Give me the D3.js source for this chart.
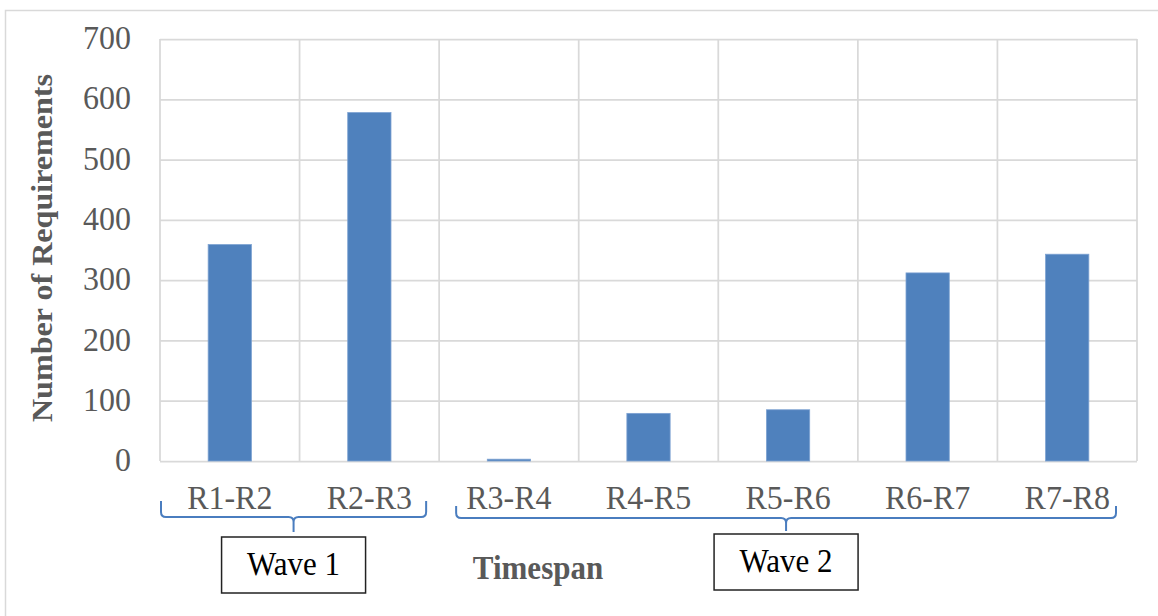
<!DOCTYPE html>
<html>
<head>
<meta charset="utf-8">
<script src="https://cdn.jsdelivr.net/npm/d3@7"></script>
<style>
  body { margin: 0; background: #fff; }
  svg { display: block; }
</style>
</head>
<body>
<svg id="chart" width="1158" height="616"></svg>
<script>
// chart data
const categories = ['R1-R2', 'R2-R3', 'R3-R4', 'R4-R5', 'R5-R6', 'R6-R7', 'R7-R8'];
const values = [359, 578, 3, 79, 85, 312, 343];
const yTicks = [0, 100, 200, 300, 400, 500, 600, 700];
const waveLabels = ['Wave 1', 'Wave 2'];
const waveFrom = ['R1-R2', 'R3-R4'];
const waveTo = ['R2-R3', 'R7-R8'];

const W = 1158, H = 616;
const plot = { left: 160, right: 1137, top: 39, bottom: 461 };
const GRID = '#d9d9d9';
const TXT = '#595959';
const FONT = '"Liberation Serif", "Times New Roman", serif';
const STRETCH = 'scale(1,1.07)'; // source text is a bit taller than wide

const svg = d3.select('#chart');

// outer chart frame (runs off the right and bottom edges)
svg.append('rect')
    .attr('x', 5.5).attr('y', 10.5)
    .attr('width', W + 20).attr('height', H + 20)
    .attr('fill', '#fff')
    .attr('stroke', GRID)
    .attr('stroke-width', 1.5);

const x = d3.scaleBand().domain(categories).range([plot.left, plot.right]).padding(0);
const y = d3.scaleLinear().domain([0, 700]).range([plot.bottom, plot.top]);

// horizontal grid
svg.append('g')
    .attr('transform', `translate(${plot.left},0)`)
    .call(d3.axisLeft(y).tickValues(yTicks).tickSize(-(plot.right - plot.left)).tickFormat(''))
    .call(g => g.select('.domain').remove())
    .call(g => g.selectAll('line').attr('stroke', GRID).attr('stroke-width', 1.75));

// vertical grid at category boundaries
const edges = categories.map(c => x(c)).concat([plot.right]);
svg.append('g').selectAll('line')
    .data(edges)
    .join('line')
    .attr('x1', d => d).attr('x2', d => d)
    .attr('y1', plot.top).attr('y2', plot.bottom)
    .attr('stroke', GRID)
    .attr('stroke-width', 1.75);

// bars
const barW = x.bandwidth() * 0.31;
svg.append('g').selectAll('rect')
    .data(values)
    .join('rect')
    .attr('x', (d, i) => x(categories[i]) + (x.bandwidth() - barW) / 2)
    .attr('y', d => y(d))
    .attr('width', barW)
    .attr('height', d => y(0) - y(d))
    .attr('fill', '#4f81bd')
    .attr('stroke', '#7da2d2')
    .attr('stroke-width', 0.8);

// y tick labels
svg.append('g')
    .attr('transform', `translate(${plot.left},0)`)
    .call(d3.axisLeft(y).tickValues(yTicks).tickSize(0).tickPadding(29))
    .call(g => g.select('.domain').remove())
    .call(g => g.selectAll('text')
        .attr('dy', '0.28em')
        .attr('transform', STRETCH)
        .attr('fill', TXT)
        .style('font-family', FONT)
        .style('font-size', '32px'));

// x category labels
svg.append('g')
    .attr('transform', `translate(0,${plot.bottom})`)
    .call(d3.axisBottom(x).tickSize(0))
    .call(g => g.select('.domain').remove())
    .call(g => g.selectAll('text')
        .attr('y', 45)
        .attr('dy', 0)
        .attr('transform', STRETCH)
        .attr('fill', TXT)
        .style('font-family', FONT)
        .style('font-size', '32px'));

// y axis title
svg.append('text')
    .attr('transform', `translate(52,248) ${STRETCH} rotate(-90)`)
    .attr('text-anchor', 'middle')
    .attr('fill', TXT)
    .style('font-family', FONT)
    .style('font-size', '30px')
    .style('font-weight', 'bold')
    .text('Number of Requirements');

// x axis title
svg.append('text')
    .attr('transform', `translate(538,579) ${STRETCH}`)
    .attr('text-anchor', 'middle')
    .attr('fill', TXT)
    .style('font-family', FONT)
    .style('font-size', '31px')
    .style('font-weight', 'bold')
    .text('Timespan');

// wave braces and boxes
const braces = [
    { x0: x(waveFrom[0]) + 1, x1: x(waveTo[0]) + x.bandwidth() - 13, top: 501, line: 517, tip: 532, label: waveLabels[0], boxTop: 537 },
    { x0: x(waveFrom[1]) + 17, x1: x(waveTo[1]) + x.bandwidth() - 21, top: 506, line: 518, tip: 531, label: waveLabels[1], boxTop: 534 }
];

function bracePath(b) {
    const r = 5;
    const xm = (b.x0 + b.x1) / 2;
    const p = d3.path();
    p.moveTo(b.x0, b.top);
    p.lineTo(b.x0, b.line - r);
    p.quadraticCurveTo(b.x0, b.line, b.x0 + r, b.line);
    p.lineTo(xm - r, b.line);
    p.quadraticCurveTo(xm, b.line, xm, b.line + r);
    p.lineTo(xm, b.tip);
    p.moveTo(xm, b.line + r);
    p.quadraticCurveTo(xm, b.line, xm + r, b.line);
    p.lineTo(b.x1 - r, b.line);
    p.quadraticCurveTo(b.x1, b.line, b.x1, b.line - r);
    p.lineTo(b.x1, b.top);
    return p.toString();
}

const waves = svg.append('g').selectAll('g')
    .data(braces)
    .join('g');

waves.append('path')
    .attr('d', bracePath)
    .attr('fill', 'none')
    .attr('stroke', '#4a7dbf')
    .attr('stroke-width', 2);

const boxW = 144, boxH = 56;
waves.append('rect')
    .attr('x', d => (d.x0 + d.x1) / 2 - boxW / 2)
    .attr('y', d => d.boxTop)
    .attr('width', boxW)
    .attr('height', boxH)
    .attr('fill', '#fff')
    .attr('stroke', '#222')
    .attr('stroke-width', 1.5);

waves.append('text')
    .attr('transform', d => `translate(${(d.x0 + d.x1) / 2},${d.boxTop + 38}) ${STRETCH}`)
    .attr('text-anchor', 'middle')
    .attr('fill', '#000')
    .style('font-family', FONT)
    .style('font-size', '31px')
    .text(d => d.label);
</script>
</body>
</html>
